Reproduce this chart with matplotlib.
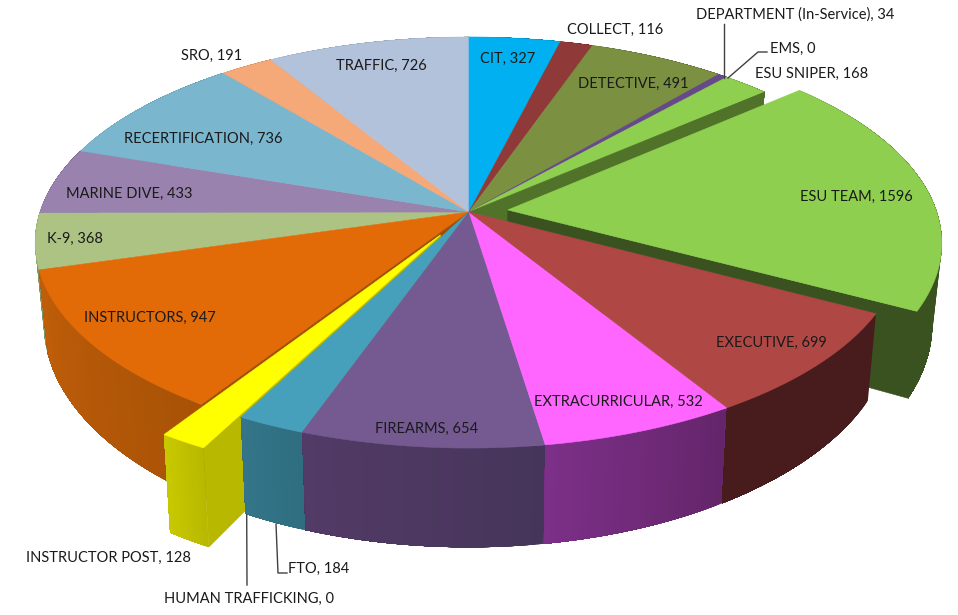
#Exploded 3D pie, drawn as polygons in pixel space
import numpy as np
import matplotlib
matplotlib.use('Agg')
import matplotlib.pyplot as plt
from matplotlib.colors import to_rgb

plt.rcParams['font.family'] = ['Lato', 'DejaVu Sans']

#-----DATA-----
categories = ['CIT', 'COLLECT', 'DETECTIVE', 'DEPARTMENT (In-Service)', 'EMS', 'ESU SNIPER', 'ESU TEAM',
              'EXECUTIVE', 'EXTRACURRICULAR', 'FIREARMS', 'FTO', 'HUMAN TRAFFICKING', 'INSTRUCTOR POST',
              'INSTRUCTORS', 'K-9', 'MARINE DIVE', 'RECERTIFICATION', 'SRO', 'TRAFFIC']
values = [327, 116, 491, 34, 0, 168, 1596, 699, 532, 654, 184, 0, 128, 947, 368, 433, 736, 191, 726]
explode = [0, 0, 0, 0, 0, 0, 0.091, 0, 0, 0, 0, 0, 0.13, 0, 0, 0, 0, 0, 0]
top_colors = ['#00B0F0', '#8F3A38', '#7B9040', '#66498A', '#66498A', '#8FCF50', '#8FCF50',
              '#AF4845', '#FF66FF', '#755A92', '#46A0BB', '#46A0BB', '#FFFF00',
              '#E26B08', '#ADC383', '#9983AE', '#7AB6CE', '#F5A878', '#B3C2DB']
#wall colours, start and end of the rim
wall_start = ['#006E96', '#5A2322', '#4A5A28', '#3E2D56', '#3E2D56', '#507329', '#3A5220',
              '#481C1C', '#64256A', '#46355A', '#2F6E80', '#2F6E80', '#B8B800',
              '#A85206', '#7F9460', '#6A5A80', '#558CA0', '#B87A50', '#8090A8']
wall_end = ['#006E96', '#5A2322', '#4A5A28', '#3E2D56', '#3E2D56', '#507329', '#3A5220',
            '#481C1C', '#7C3088', '#523B66', '#34758A', '#34758A', '#C9C900',
            '#C05E0A', '#7F9460', '#6A5A80', '#558CA0', '#B87A50', '#8090A8']

#label position per slice, left edge and middle of text
label_x = [480, 567, 696, 770, 755, 578, 800, 716, 534, 375, 288, 164, 26, 84, 47, 66, 124, 181, 336]
label_y = [59, 30, 15, 49, 74, 84, 197, 343, 402, 429, 569, 599, 558, 318, 239, 194, 139, 56, 66]
label_order = ['CIT', 'COLLECT', 'DEPARTMENT (In-Service)', 'EMS', 'ESU SNIPER', 'DETECTIVE', 'ESU TEAM',
               'EXECUTIVE', 'EXTRACURRICULAR', 'FIREARMS', 'FTO', 'HUMAN TRAFFICKING', 'INSTRUCTOR POST',
               'INSTRUCTORS', 'K-9', 'MARINE DIVE', 'RECERTIFICATION', 'SRO', 'TRAFFIC']

#-----GEOMETRY-----
cx, cy = 469, 212
rx, ry = 429, 201
k = 0.1485  #perspective
sx, sy, drop = 0.98, 1.09, 78  #how the bottom plane maps from the top plane

edges = np.cumsum([0] + values) / sum(values) * 2 * np.pi


def project(u, v):
    d = 1 - k * v
    return cx + rx * u / d, cy + ry * v / d


def lower(x, y):
    return cx + sx * (x - cx), cy + drop + sy * (y - cy)


def offset(i):
    mid = (edges[i] + edges[i + 1]) / 2
    return explode[i] * np.sin(mid), -explode[i] * np.cos(mid)


def rim(i, n=60):
    t = np.linspace(edges[i], edges[i + 1], n)
    du, dv = offset(i)
    return project(np.sin(t) + du, -np.cos(t) + dv)


def apex(i):
    return project(*offset(i))


fig = plt.figure(figsize=(9.58, 6.15), dpi=100)
ax = fig.add_axes([0, 0, 1, 1])
ax.set_xlim(0, 958)
ax.set_ylim(615, 0)
ax.axis('off')


def draw_top(i):
    x, y = rim(i)
    ax0, ay0 = apex(i)
    ax.fill(np.r_[ax0, x], np.r_[ay0, y], color=top_colors[i], lw=0.4)


def draw_wall(i):
    #outer wall, painted in steps. Each step covers the rest of the rim so no seams show
    x, y = rim(i)
    xb, yb = lower(x, y)
    c0, c1 = np.array(to_rgb(wall_start[i])), np.array(to_rgb(wall_end[i]))
    n = len(x)
    for j in range(n - 1):
        c = c0 + (c1 - c0) * j / (n - 2)
        ax.fill(np.r_[x[j:], xb[j:][::-1]], np.r_[y[j:], yb[j:][::-1]], color=c, lw=0)


def draw_cut(i, end, color):
    #flat radial wall at one side of a slice
    x, y = rim(i)
    ax0, ay0 = apex(i)
    xe, ye = x[end], y[end]
    bx, by = lower(np.array([xe, ax0]), np.array([ye, ay0]))
    ax.fill([ax0, xe, bx[0], bx[1]], [ay0, ye, by[0], by[1]], color=color, lw=0.4)


idx = {name: n for n, name in enumerate(categories)}

#back of the pie first
back = ['K-9', 'MARINE DIVE', 'RECERTIFICATION', 'SRO', 'TRAFFIC', 'CIT', 'COLLECT', 'DETECTIVE',
        'DEPARTMENT (In-Service)', 'EMS', 'ESU SNIPER']
for name in back:
    draw_wall(idx[name])
for name in back:
    draw_top(idx[name])
draw_cut(idx['ESU SNIPER'], -1, wall_start[idx['ESU SNIPER']])

#pulled out big slice
i = idx['ESU TEAM']
draw_wall(i)
draw_cut(i, -1, wall_start[i])
draw_top(i)

#front of the pie, left to right so the exploded post sits in between
i = idx['INSTRUCTORS']
draw_wall(i)
draw_top(i)
draw_cut(i, 0, '#A04E06')

i = idx['INSTRUCTOR POST']
draw_cut(i, 0, wall_start[i])
draw_wall(i)
draw_top(i)

for name in ['HUMAN TRAFFICKING', 'FTO', 'FIREARMS', 'EXTRACURRICULAR', 'EXECUTIVE']:
    draw_wall(idx[name])
    draw_top(idx[name])

#leader lines
ax.plot([724, 724], [24, 78], color='#404040', lw=1)
ax.plot([728, 758, 767], [78, 52, 52], color='#404040', lw=1)
ax.plot([276, 278, 287], [524, 573, 573], color='#404040', lw=1)
ax.plot([246.7, 247], [515, 585], color='#404040', lw=1)

#labels
for name, lx, ly in zip(label_order, label_x, label_y):
    ax.text(lx, ly, '{}, {}'.format(name, values[idx[name]]), fontsize=10.5, color='#1A1A1A',
            ha='left', va='center')

fig.savefig('out.png', dpi=100)
